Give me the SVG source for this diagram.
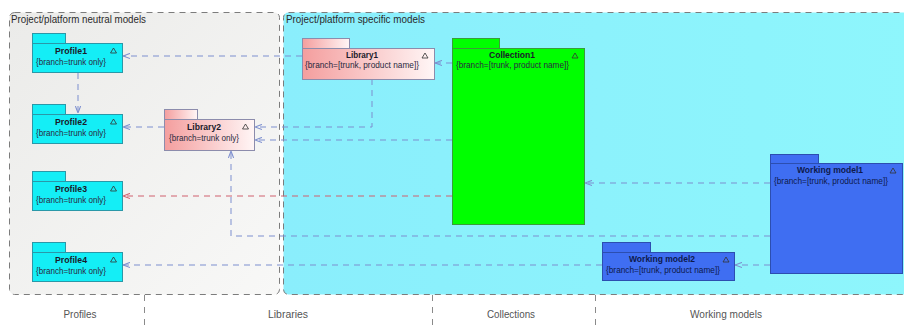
<svg xmlns="http://www.w3.org/2000/svg" width="904" height="331" viewBox="0 0 904 331">
  <defs>
    <linearGradient id="gNeutral" x1="0" y1="0" x2="1" y2="1">
      <stop offset="0" stop-color="#ebebe9"/>
      <stop offset="1" stop-color="#f8f8f7"/>
    </linearGradient>
    <linearGradient id="gSpecific" x1="0" y1="0" x2="1" y2="0">
      <stop offset="0" stop-color="#8aeefc"/>
      <stop offset="1" stop-color="#8ef6fc"/>
    </linearGradient>
    <linearGradient id="gLib" x1="0" y1="0" x2="1" y2="0">
      <stop offset="0" stop-color="#f49e9e"/>
      <stop offset="1" stop-color="#fff6f6"/>
    </linearGradient>
    <marker id="arrow" viewBox="0 0 8 8" refX="8" refY="4" markerWidth="7" markerHeight="7" markerUnits="userSpaceOnUse" orient="auto">
      <path d="M0,1 L8,4 L0,7" fill="none" stroke="#7d8fcf" stroke-width="1.2"/>
    </marker>
    <marker id="arrowRed" viewBox="0 0 8 8" refX="8" refY="4" markerWidth="7" markerHeight="7" markerUnits="userSpaceOnUse" orient="auto">
      <path d="M0,1 L8,4 L0,7" fill="none" stroke="#d0606e" stroke-width="1.2"/>
    </marker>
  </defs>
  <style>
    .frame { stroke: #7c7c7c; stroke-width: 1; stroke-dasharray: 6 5; }
    .divider { stroke: #8a8a8a; stroke-width: 1; stroke-dasharray: 6 6; fill: none; }
    .ftitle { font-family: "Liberation Sans", Arial, sans-serif; font-size: 11px; fill: #2a2a2a; }
    .lane { font-family: "Liberation Sans", Arial, sans-serif; font-size: 11px; fill: #555; text-anchor: middle; }
    .ntitle { font-family: "Liberation Sans", Arial, sans-serif; font-size: 9.5px; font-weight: bold; fill: #1a1a2a; text-anchor: middle; }
    .nbranch { font-family: "Liberation Sans", Arial, sans-serif; font-size: 9.5px; fill: #2a2a40; }
    .profile { fill: #14eef6; stroke: #2a98a8; stroke-width: 1; }
    .library { fill: url(#gLib); stroke: #8c8cac; stroke-width: 1; }
    .collection { fill: #00ff00; stroke: #3a9c3a; stroke-width: 1; }
    .wm { fill: #3f6ef2; stroke: #2c4eb0; stroke-width: 1; }
    .wm-text { fill: #0e1a4c; }
    .tri { fill: none; stroke: #333; stroke-width: 0.8; }
    .conn { fill: none; stroke: #7d8fcf; stroke-width: 1; stroke-dasharray: 6 5; marker-end: url(#arrow); }
    .conn-red { fill: none; stroke: #d0606e; stroke-width: 1; stroke-dasharray: 6 5; marker-end: url(#arrowRed); }
  </style>

  <!-- model frames -->
  <g id="frame-neutral">
    <rect class="frame" x="9.5" y="12.5" width="270" height="282" rx="5" fill="url(#gNeutral)"/>
    <text class="ftitle" x="11" y="23" textLength="135" lengthAdjust="spacingAndGlyphs">Project/platform neutral models</text>
  </g>
  <g id="frame-specific">
    <rect class="frame" x="283.5" y="12.5" width="630" height="282" rx="5" fill="url(#gSpecific)"/>
    <text class="ftitle" x="286" y="23" textLength="139" lengthAdjust="spacingAndGlyphs">Project/platform specific models</text>
  </g>

  <!-- lane dividers and captions -->
  <g id="lanes">
    <line class="divider" x1="144.5" y1="295" x2="144.5" y2="331"/>
    <line class="divider" x1="432.5" y1="295" x2="432.5" y2="331"/>
    <line class="divider" x1="595.5" y1="295" x2="595.5" y2="331"/>
    <text class="lane" x="80" y="318" textLength="33" lengthAdjust="spacingAndGlyphs">Profiles</text>
    <text class="lane" x="288" y="318" textLength="40" lengthAdjust="spacingAndGlyphs">Libraries</text>
    <text class="lane" x="511" y="318" textLength="48" lengthAdjust="spacingAndGlyphs">Collections</text>
    <text class="lane" x="726" y="318" textLength="72" lengthAdjust="spacingAndGlyphs">Working models</text>
  </g>

  <!-- connectors -->
  <g id="connectors">
    <path class="conn" d="M302,56 H123"/>
    <path class="conn" d="M78,73 V113"/>
    <path class="conn" d="M164,127 H123"/>
    <path class="conn" d="M372,79 V127 H255"/>
    <path class="conn" d="M452,140 H255"/>
    <path class="conn" d="M452,63 H435"/>
    <path class="conn-red" d="M452,196 H123"/>
    <path class="conn" d="M770,183 H585"/>
    <path class="conn" d="M770,236 H231 V151"/>
    <path class="conn" d="M770,265 H735"/>
    <path class="conn" d="M602,265 H123"/>
  </g>

  <!-- nodes -->
  <g id="profile1">
    <rect class="profile" x="32.5" y="33.5" width="33" height="10"/>
    <rect class="profile" x="32.5" y="43.5" width="90" height="29"/>
    <text class="ntitle" x="71" y="54" textLength="32" lengthAdjust="spacingAndGlyphs">Profile1</text>
    <text class="nbranch" x="36" y="65" textLength="70" lengthAdjust="spacingAndGlyphs">{branch=trunk only}</text>
    <path class="tri" d="M110.5,53 L116.5,53 L113.5,48 Z"/>
  </g>
  <g id="profile2">
    <rect class="profile" x="32.5" y="104.5" width="33" height="10"/>
    <rect class="profile" x="32.5" y="114.5" width="90" height="29"/>
    <text class="ntitle" x="71" y="125" textLength="32" lengthAdjust="spacingAndGlyphs">Profile2</text>
    <text class="nbranch" x="36" y="136" textLength="70" lengthAdjust="spacingAndGlyphs">{branch=trunk only}</text>
    <path class="tri" d="M110.5,124 L116.5,124 L113.5,119 Z"/>
  </g>
  <g id="profile3">
    <rect class="profile" x="32.5" y="171.5" width="33" height="10"/>
    <rect class="profile" x="32.5" y="181.5" width="90" height="29"/>
    <text class="ntitle" x="71" y="192" textLength="32" lengthAdjust="spacingAndGlyphs">Profile3</text>
    <text class="nbranch" x="36" y="203" textLength="70" lengthAdjust="spacingAndGlyphs">{branch=trunk only}</text>
    <path class="tri" d="M110.5,191 L116.5,191 L113.5,186 Z"/>
  </g>
  <g id="profile4">
    <rect class="profile" x="32.5" y="242.5" width="33" height="10"/>
    <rect class="profile" x="32.5" y="252.5" width="90" height="29"/>
    <text class="ntitle" x="71" y="263" textLength="32" lengthAdjust="spacingAndGlyphs">Profile4</text>
    <text class="nbranch" x="36" y="274" textLength="70" lengthAdjust="spacingAndGlyphs">{branch=trunk only}</text>
    <path class="tri" d="M110.5,262 L116.5,262 L113.5,257 Z"/>
  </g>
  <g id="library2">
    <rect class="library" x="164.5" y="109.5" width="33" height="10"/>
    <rect class="library" x="164.5" y="119.5" width="90" height="31"/>
    <text class="ntitle" x="204" y="130" textLength="34" lengthAdjust="spacingAndGlyphs">Library2</text>
    <text class="nbranch" x="169" y="141" textLength="70" lengthAdjust="spacingAndGlyphs">{branch=trunk only}</text>
    <path class="tri" d="M242.5,129 L248.5,129 L245.5,124 Z"/>
  </g>
  <g id="library1">
    <rect class="library" x="302.5" y="38.5" width="47" height="10"/>
    <rect class="library" x="302.5" y="48.5" width="132" height="31"/>
    <text class="ntitle" x="362" y="58" textLength="32" lengthAdjust="spacingAndGlyphs">Library1</text>
    <text class="nbranch" x="305" y="68" textLength="114" lengthAdjust="spacingAndGlyphs">{branch=[trunk, product name]}</text>
    <path class="tri" d="M422,58 L428,58 L425,53 Z"/>
  </g>
  <g id="collection1">
    <rect class="collection" x="452.5" y="38.5" width="47" height="10"/>
    <rect class="collection" x="452.5" y="48.5" width="132" height="176"/>
    <text class="ntitle" x="512" y="58" textLength="46" lengthAdjust="spacingAndGlyphs">Collection1</text>
    <text class="nbranch" x="456" y="68" textLength="113" lengthAdjust="spacingAndGlyphs">{branch=[trunk, product name]}</text>
    <path class="tri" d="M572,58 L578,58 L575,53 Z"/>
  </g>
  <g id="working-model1">
    <rect class="wm" x="770.5" y="154.5" width="48" height="9"/>
    <rect class="wm" x="770.5" y="163.5" width="132" height="110"/>
    <text class="ntitle wm-text" x="830" y="173" textLength="66" lengthAdjust="spacingAndGlyphs">Working model1</text>
    <text class="nbranch wm-text" x="774" y="184" textLength="114" lengthAdjust="spacingAndGlyphs">{branch=[trunk, product name]}</text>
    <path class="tri" d="M890,173 L896,173 L893,168 Z"/>
  </g>
  <g id="working-model2">
    <rect class="wm" x="602.5" y="242.5" width="48" height="10"/>
    <rect class="wm" x="602.5" y="252.5" width="132" height="28"/>
    <text class="ntitle wm-text" x="662" y="262" textLength="66" lengthAdjust="spacingAndGlyphs">Working model2</text>
    <text class="nbranch wm-text" x="606" y="273" textLength="114" lengthAdjust="spacingAndGlyphs">{branch=[trunk, product name]}</text>
    <path class="tri" d="M723,262 L729,262 L726,257 Z"/>
  </g>
</svg>
